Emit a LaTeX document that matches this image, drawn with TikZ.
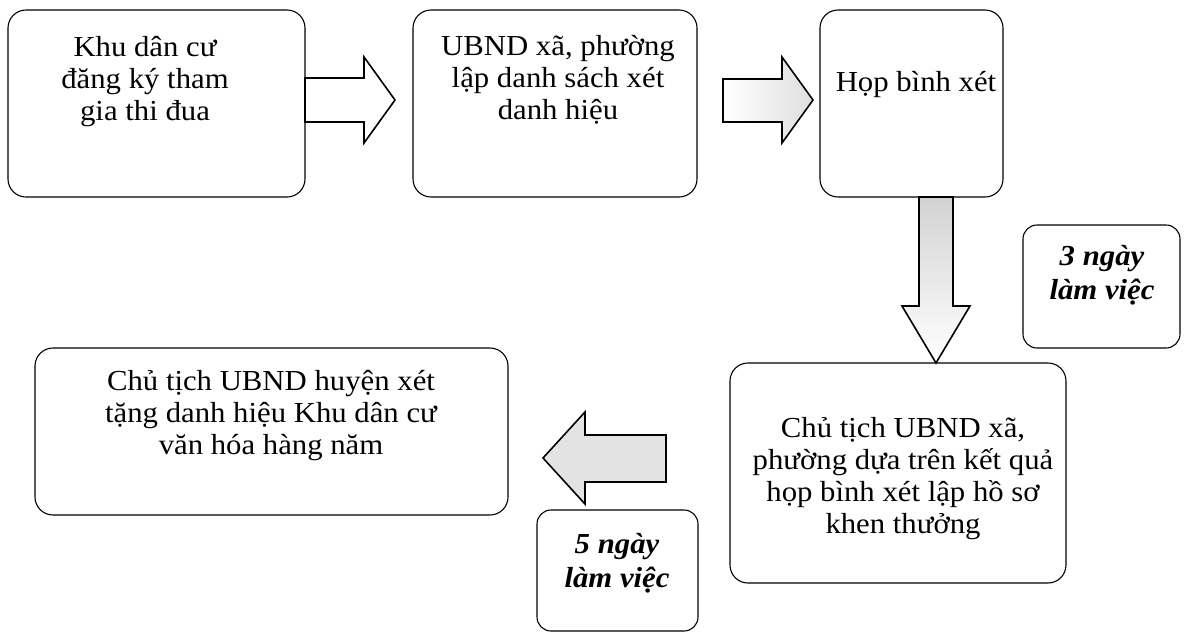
\documentclass[tikz,border=0pt]{standalone}
\usepackage{fontspec}
\setmainfont[FakeStretch=1.06]{Liberation Serif}
\tikzset{
  box/.style={draw, line width=1.1pt, rounded corners=18pt},
  daybox/.style={draw, line width=1.1pt, rounded corners=14pt},
  txt/.style={align=center, inner sep=0pt, anchor=base, font=\fontsize{29}{32}\selectfont},
  daytxt/.style={align=center, inner sep=0pt, anchor=base, font=\fontsize{29}{34}\selectfont\bfseries\itshape},
  blk/.style={draw, line width=1.6pt, line join=miter}
}
\begin{document}
\begin{tikzpicture}[x=1pt,y=-1pt]
\useasboundingbox (0,0) rectangle (1184,633);
% boxes
\node[box, minimum width=297pt, minimum height=187pt] (b1) at (156.5,103.5) {};
\node[box, minimum width=284pt, minimum height=187pt] (b2) at (555,103.5) {};
\node[box, minimum width=183pt, minimum height=187pt] (b3) at (911.5,103.5) {};
\node[box, minimum width=336pt, minimum height=220pt] (b4) at (898,473) {};
\node[box, minimum width=473pt, minimum height=167pt] (b5) at (271.5,431.5) {};
\node[daybox, minimum width=157pt, minimum height=123pt] (d3) at (1101.5,286.5) {};
\node[daybox, minimum width=161pt, minimum height=121pt] (d5) at (617.5,570.5) {};
% texts (anchor base = last line)
\node[txt] (t1) at (145,120) {Khu dân cư\\đăng ký tham\\gia thi đua};
\node[txt] (t2) at (558,119) {UBND xã, phường\\lập danh sách xét\\danh hiệu};
\node[txt] (t3) at (916,91) {Họp bình xét};
\node[txt] (t4) at (903,533) {Chủ tịch UBND xã,\\phường dựa trên kết quả\\họp bình xét lập hồ sơ\\khen thưởng};
\node[txt] (t5) at (271,454) {Chủ tịch UBND huyện xét\\tặng danh hiệu Khu dân cư\\văn hóa hàng năm};
\node[daytxt] (t6) at (1102,299) {3 ngày\\làm việc};
\node[daytxt] (t7) at (617,587) {5 ngày\\làm việc};
% block arrows
\draw[blk, fill=white] (305,78) -- (364,78) -- (364,57) -- (395,100) -- (364,143) -- (364,122) -- (305,122) -- cycle;
\draw[blk, left color=white, right color=gray!25] (723,79) -- (782,79) -- (782,57) -- (813,100) -- (782,143) -- (782,122) -- (723,122) -- cycle;
\draw[blk, top color=gray!35, bottom color=white] (919,197) -- (953,197) -- (953,306) -- (970,306) -- (936,363) -- (902,306) -- (919,306) -- cycle;
\draw[blk, fill=gray!22] (666,435) -- (585,435) -- (585,412) -- (543,458) -- (585,504) -- (585,482) -- (666,482) -- cycle;
\end{tikzpicture}
\end{document}
